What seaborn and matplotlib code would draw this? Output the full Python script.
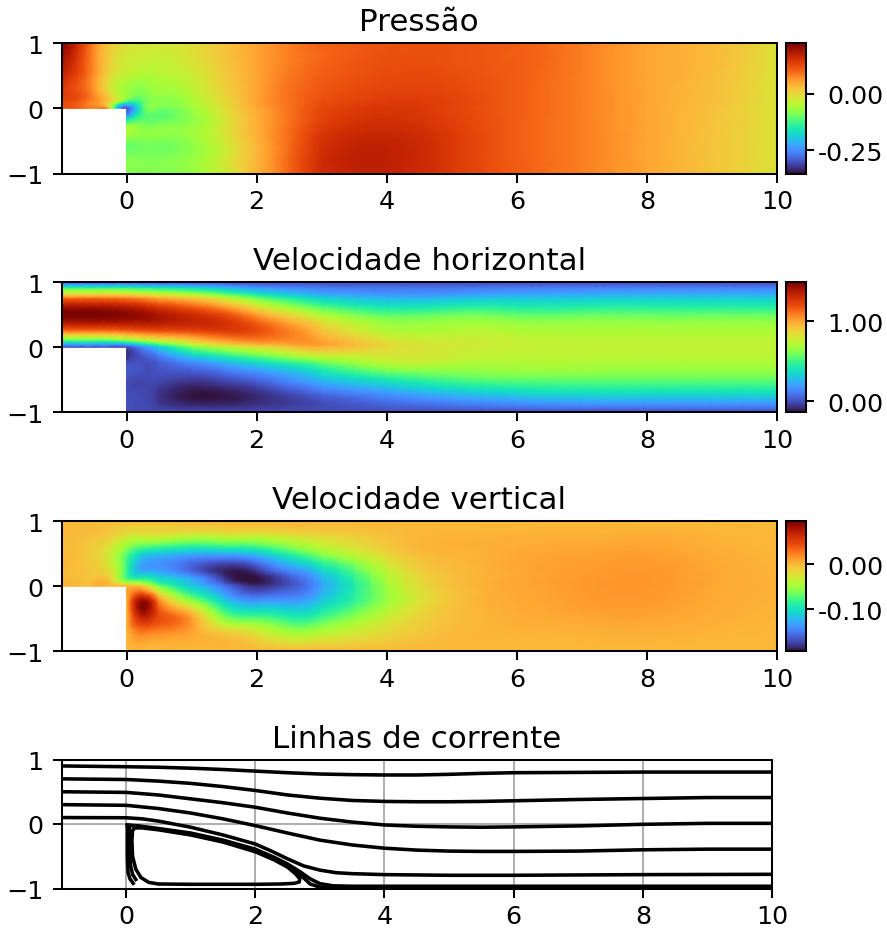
import numpy as np
import matplotlib
matplotlib.use("Agg")
import matplotlib.pyplot as plt
import matplotlib.tri as mtri
from matplotlib.ticker import FormatStrFormatter
import seaborn as sns

titles = ["Pressão", "Velocidade horizontal", "Velocidade vertical", "Linhas de corrente"]
x_nodes = [-1, -.75, -.5, -.25, 0, .25, .5, 1, 1.5, 2, 2.5, 3, 4, 5, 6, 7, 8, 9, 10]
y_nodes = [1, .9, .75, .5, .25, .1, 0, -.25, -.5, -.75, -1]

# Rows follow y_nodes, columns follow x_nodes
pressure = [
 [.224,.155,.07,.015,-.015,-.02,-.022,-.01,.02,.05,.08,.10,.115,.115,.105,.08,.05,.03,-.015],
 [.21,.15,.07,.012,-.018,-.025,-.026,-.012,.02,.05,.08,.10,.115,.115,.105,.08,.05,.03,-.015],
 [.19,.14,.068,.008,-.025,-.032,-.035,-.015,.018,.05,.08,.10,.118,.115,.105,.08,.05,.03,-.015],
 [.165,.125,.065,-.005,-.04,-.055,-.05,-.03,.012,.05,.085,.105,.122,.12,.105,.08,.05,.028,-.015],
 [.14,.115,.065,-.012,-.07,-.085,-.07,-.045,.005,.05,.09,.112,.13,.125,.105,.08,.05,.025,-.015],
 [.125,.11,.07,.005,-.12,-.11,-.085,-.06,-.005,.05,.09,.118,.138,.13,.105,.08,.05,.025,-.015],
 [.115,.11,.08,.02,-.30,-.125,-.095,-.07,-.01,.045,.09,.125,.145,.13,.105,.08,.05,.022,-.015],
 [-.09,-.09,-.09,-.09,-.09,-.09,-.09,-.075,-.02,.04,.09,.135,.155,.135,.105,.08,.05,.022,-.015],
 [-.09,-.09,-.09,-.09,-.09,-.09,-.09,-.075,-.025,.037,.095,.148,.168,.14,.105,.08,.05,.02,-.015],
 [-.09,-.09,-.09,-.09,-.09,-.09,-.09,-.075,-.028,.035,.098,.155,.172,.14,.105,.08,.05,.02,-.015],
 [-.09,-.09,-.09,-.09,-.09,-.09,-.09,-.075,-.03,.035,.098,.155,.17,.14,.105,.08,.05,.02,-.015],
]

# Columns of the horizontal velocity, one list per entry of x_nodes
u_columns = [
 [0,.54,1.125,1.49,1.125,.54,0,0,0,0,0],
 [0,.54,1.125,1.49,1.125,.54,0,0,0,0,0],
 [0,.54,1.125,1.49,1.125,.54,0,0,0,0,0],
 [0,.54,1.12,1.48,1.13,.55,0,0,0,0,0],
 [0,.53,1.10,1.46,1.15,.62,0,0,0,0,0],
 [0,.50,1.06,1.43,1.18,.70,.16,.01,-.01,-.01,0],
 [0,.47,1.00,1.38,1.20,.78,.33,.04,-.01,-.06,0],
 [0,.42,.92,1.30,1.22,.90,.58,.14,-.04,-.125,0],
 [0,.32,.78,1.20,1.25,1.02,.72,.24,0,-.12,0],
 [0,.22,.60,1.02,1.20,1.08,.82,.35,.06,-.08,0],
 [0,.17,.46,.85,1.08,1.06,.90,.45,.16,-.02,0],
 [0,.13,.35,.70,.92,1.0,.96,.56,.28,.05,0],
 [0,.11,.27,.55,.72,.82,.85,.72,.42,.15,0],
 [0,.11,.29,.58,.72,.78,.79,.72,.52,.24,0],
 [0,.13,.31,.56,.71,.76,.76,.71,.56,.30,0],
 [0,.14,.32,.565,.70,.745,.75,.71,.565,.33,0],
 [0,.14,.33,.565,.70,.74,.75,.70,.565,.33,0],
 [0,.14,.33,.565,.70,.74,.75,.70,.565,.33,0],
 [0,.14,.33,.565,.70,.74,.75,.70,.565,.33,0],
]

# Columns of the vertical velocity, one list per entry of x_nodes
v_columns = [
 [0,0,0,0,0,0,0,0,0,0,0],
 [0,0,-.002,-.003,-.003,-.002,0,0,0,0,0],
 [0,-.002,-.006,-.012,-.008,-.004,0,0,0,0,0],
 [0,-.006,-.014,-.03,-.025,-.012,-.003,0,0,0,0],
 [0,-.012,-.03,-.07,-.08,-.07,0,0,0,0,0],
 [0,-.012,-.035,-.105,-.13,-.08,-.01,.09,.065,.02,0],
 [0,-.012,-.035,-.115,-.135,-.10,-.06,.025,.045,.015,0],
 [0,-.01,-.045,-.125,-.16,-.125,-.11,-.045,.012,.008,0],
 [0,-.008,-.04,-.125,-.185,-.175,-.15,-.105,-.055,-.005,0],
 [0,-.008,-.04,-.115,-.175,-.193,-.18,-.13,-.07,-.02,0],
 [0,-.005,-.03,-.085,-.14,-.165,-.165,-.13,-.085,-.04,0],
 [0,-.004,-.02,-.055,-.105,-.125,-.13,-.11,-.075,-.035,0],
 [0,-.001,-.005,-.015,-.035,-.045,-.05,-.05,-.03,-.015,0],
 [0,.001,.003,.002,-.002,-.004,-.005,-.006,-.004,-.001,0],
 [0,.001,.004,.007,.008,.008,.008,.007,.005,.002,0],
 [0,.002,.005,.010,.012,.013,.013,.012,.008,.003,0],
 [0,.002,.006,.011,.014,.015,.015,.013,.009,.004,0],
 [0,.001,.003,.006,.008,.008,.008,.007,.005,.002,0],
 [0,0,.001,.002,.003,.004,.004,.003,.002,.001,0],
]

color_limits = [(-.354, .224), (-.134, 1.49), (-.193, .096)]
colorbar_ticks = [[-.25, 0], [0, 1], [-.10, 0]]

stream_x = [-1, 0, .5, 1, 1.5, 2, 2.5, 3, 3.5, 4, 4.5, 5, 5.5, 6, 7, 8, 9, 10]
stream_y = [
 [.9,.888,.88,.865,.845,.82,.795,.775,.765,.76,.76,.77,.785,.795,.80,.805,.805,.805],
 [.7,.69,.665,.63,.58,.52,.45,.40,.365,.35,.345,.345,.35,.36,.38,.395,.41,.41],
 [.5,.49,.45,.39,.33,.26,.17,.09,.03,-.015,-.035,-.045,-.05,-.045,-.03,-.005,.01,.01],
 [.3,.29,.24,.17,.08,-.025,-.14,-.25,-.325,-.375,-.405,-.42,-.425,-.425,-.42,-.40,-.39,-.39],
]
inner_x = [-1, 0, .25, .5, 1, 1.5, 2, 2.25, 2.5, 2.75, 3, 3.25, 3.5, 4, 5, 6, 8, 10]
inner_y = [.1, .097, .08, .045, -.05, -.17, -.31, -.42, -.54, -.65, -.715, -.755, -.77, -.785, -.795, -.795, -.785, -.78]

loop_x = [.2,.5,1,1.5,2,2.3,2.5,2.62,2.69,2.68,2.6,2.4,2,1,.5,.35,.23,.15,.1,.09,.1,.13,.2]
loop_y = [-.055,-.09,-.17,-.28,-.43,-.56,-.67,-.77,-.85,-.9,-.92,-.93,-.935,-.935,-.93,-.905,-.83,-.7,-.5,-.25,-.1,-.065,-.055]
sep_x = [.02,.2,.5,1,1.5,2,2.3,2.5,2.7,2.85,3,3.2,3.5,4,6,10]
sep_a = [-.015,-.03,-.07,-.14,-.25,-.39,-.52,-.62,-.745,-.85,-.925,-.958,-.965,-.965,-.965,-.965]
sep_b = [-.02,-.04,-.08,-.155,-.265,-.41,-.54,-.645,-.79,-.93,-.98,-.985,-.985,-.985,-.985,-.985]
wall_x = [.02,.02,.03,.06,.11]
wall_y = [-.02,-.5,-.75,-.85,-.92]
wall2_x = [.05,.05,.07,.1,.15]
wall2_y = [-.05,-.4,-.65,-.78,-.86]

plt.rcParams["font.family"] = ["DejaVu Sans"]
plt.rcParams["xtick.major.pad"] = 2.6
W, H = 887, 929
DPI = 183
fig = plt.figure(figsize=(W / DPI, H / DPI), dpi=DPI)
turbo = sns.color_palette("turbo", as_cmap=True)


def px_axes(left, right, top, bottom):
    return fig.add_axes([left / W, 1 - bottom / H, (right - left) / W, (bottom - top) / H])


fields = [np.array(pressure), np.array(u_columns).T, np.array(v_columns).T]
tops = [(44, 174.5), (283.2, 413.2), (522.2, 652.2)]
nc, nr = len(x_nodes), len(y_nodes)
IX, IY = np.meshgrid(np.arange(nc, dtype=float), np.arange(nr, dtype=float))
X, Y = np.meshgrid(x_nodes, y_nodes)
tris = []
for r in range(nr - 1):
    for c in range(nc - 1):
        a, b, d, e = r * nc + c, r * nc + c + 1, (r + 1) * nc + c, (r + 1) * nc + c + 1
        tris += [[a, b, d], [b, e, d]]
tris = np.array(tris)
# smoothing happens on the node indices, so the uneven spacing does not skew it
index_tri = mtri.Triangulation(IX.ravel(), IY.ravel(), tris)
mid_x = X.ravel()[tris].mean(axis=1)
mid_y = Y.ravel()[tris].mean(axis=1)
index_tri.set_mask((mid_x < 0) & (mid_y < 0))
refiner = mtri.UniformTriRefiner(index_tri)

for i in range(3):
    ax = px_axes(61.5, 777, *tops[i])
    z = fields[i].ravel()
    interp = mtri.CubicTriInterpolator(index_tri, z, kind="min_E")
    fine, fine_z = refiner.refine_field(z, triinterpolator=interp, subdiv=3)
    fx = np.interp(fine.x, np.arange(nc), x_nodes)
    fy = np.interp(fine.y, np.arange(nr), y_nodes)
    draw_tri = mtri.Triangulation(fx, fy, fine.get_masked_triangles())
    mesh = ax.tripcolor(draw_tri, fine_z, cmap=turbo, shading="gouraud",
                        vmin=color_limits[i][0], vmax=color_limits[i][1], rasterized=True)
    ax.set_xlim(-1, 10)
    ax.set_ylim(-1, 1)
    ax.set_xticks([0, 2, 4, 6, 8, 10])
    ax.set_yticks([-1, 0, 1])
    ax.set_title(titles[i], fontsize=12.2, pad=5)
    cax = px_axes(786, 805.5, *tops[i])
    cb = fig.colorbar(mesh, cax=cax)
    cb.set_ticks(colorbar_ticks[i])
    cb.ax.yaxis.set_major_formatter(FormatStrFormatter("%.2f"))
    cb.ax.tick_params(length=3, pad=27.6)
    fig.canvas.draw()
    for label in cb.ax.get_yticklabels():
        label.set_ha("right")

ax = px_axes(61.5, 772, 760.5, 889.5)
ax.grid(True, color="#b0b0b0", linewidth=.8)
ax.set_axisbelow(True)
LW = 1.4
for ys in stream_y:
    sns.lineplot(x=stream_x, y=ys, ax=ax, color="k", lw=LW, estimator=None, sort=False, legend=False)
curves = [(inner_x, inner_y), (loop_x, loop_y), (sep_x, sep_a), (sep_x, sep_b),
          (wall_x, wall_y), (wall2_x, wall2_y)]
for cx, cy in curves:
    sns.lineplot(x=cx, y=cy, ax=ax, color="k", lw=LW, estimator=None, sort=False, legend=False)
ax.set_xlim(-1, 10)
ax.set_ylim(-1, 1)
ax.set_xticks([0, 2, 4, 6, 8, 10])
ax.set_yticks([-1, 0, 1])
ax.set_title(titles[3], fontsize=12.2, pad=5)

fig.savefig("out.png", dpi=DPI)
